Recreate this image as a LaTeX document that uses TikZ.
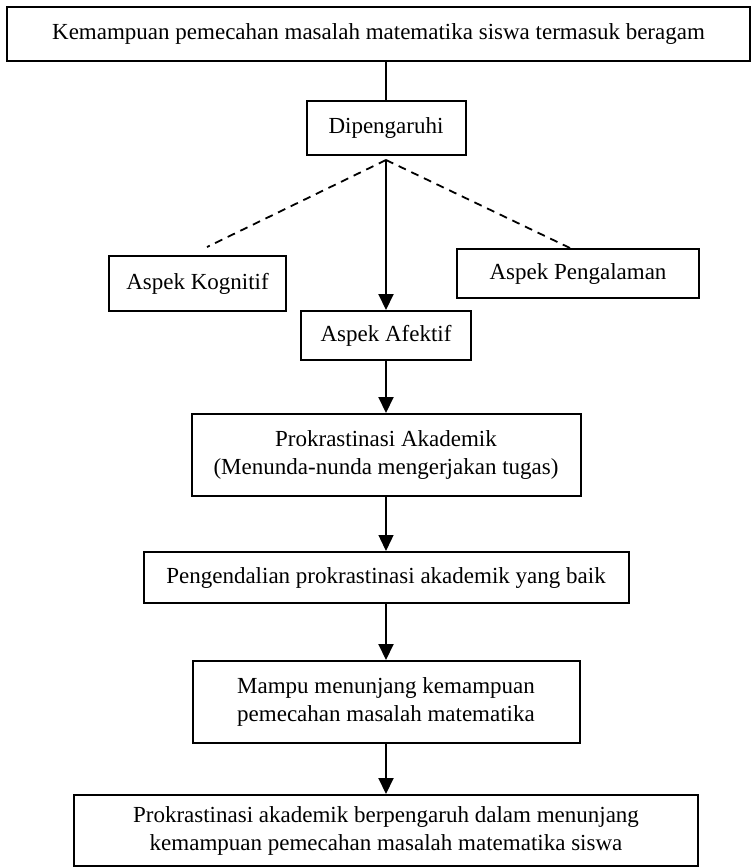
\documentclass[tikz,border=0pt]{standalone}
\usepackage{fontspec}
\setmainfont{Liberation Serif}
\usetikzlibrary{arrows.meta}

\begin{document}
\begin{tikzpicture}[x=0.5pt, y=-0.5pt, font=\fontsize{11.5}{14}\selectfont]
\useasboundingbox (0,0) rectangle (755,868);
\begin{scope}[every node/.style={draw, line width=1pt, align=center, inner sep=0pt}]
\node (0)[minimum width=371.5pt, minimum height=27pt] at (378.5,34) {Kemampuan pemecahan masalah matematika siswa termasuk beragam};
\node (1)[minimum width=79.5pt, minimum height=27pt] at (386,128) {Dipengaruhi};

\node (2)[minimum width=88.5pt, minimum height=27.5pt] at (197.5,283.5) {Aspek Kognitif};
\node (3)[minimum width=121pt, minimum height=24.5pt] at (578,273.5) {Aspek Pengalaman};
\node (4)[minimum width=85pt, minimum height=24.5pt] at (386,335.5) {Aspek Afektif};

\node (5)[minimum width=194.5pt, minimum height=41pt] at (386,455) {Prokrastinasi Akademik\\(Menunda-nunda mengerjakan tugas)};
\node (6)[minimum width=242.5pt, minimum height=25.5pt] at (386,577.5) {Pengendalian prokrastinasi akademik yang baik};
\node (7)[minimum width=193.5pt, minimum height=41pt] at (386,702) {Mampu menunjang kemampuan\\pemecahan masalah matematika};
\node (8)[minimum width=312pt, minimum height=35.5pt] at (386,830.5) {Prokrastinasi akademik berpengaruh dalam menunjang\\kemampuan pemecahan masalah matematika siswa};

\coordinate (9) at (386,160);
\coordinate (10) at (207,247);
\coordinate (11) at (570,248);
\end{scope}

\draw[line width=1pt, black] (1.north |- 0.south) -- (1.north);
\draw[line width=0.9pt, black, dash pattern=on 4pt off 3pt] (9) -- (10);
\draw[line width=0.9pt, black, dash pattern=on 4pt off 3pt] (9) -- (11);
\draw[line width=1pt, black, -{Triangle[length=8pt, width=7.5pt]}] (9) -- (4.north);
\draw[line width=1pt, black, -{Triangle[length=8pt, width=7.5pt]}] (4.south) -- (5.north);
\draw[line width=0.7pt, black, -{Triangle[length=8pt, width=7.5pt]}] (5.south) -- (6.north);
\draw[line width=1pt, black, -{Triangle[length=8pt, width=7.5pt]}] (6.south) -- (7.north);
\draw[line width=1pt, black, -{Triangle[length=8pt, width=7.5pt]}] (7.south) -- (8.north);

\end{tikzpicture}
\end{document}
